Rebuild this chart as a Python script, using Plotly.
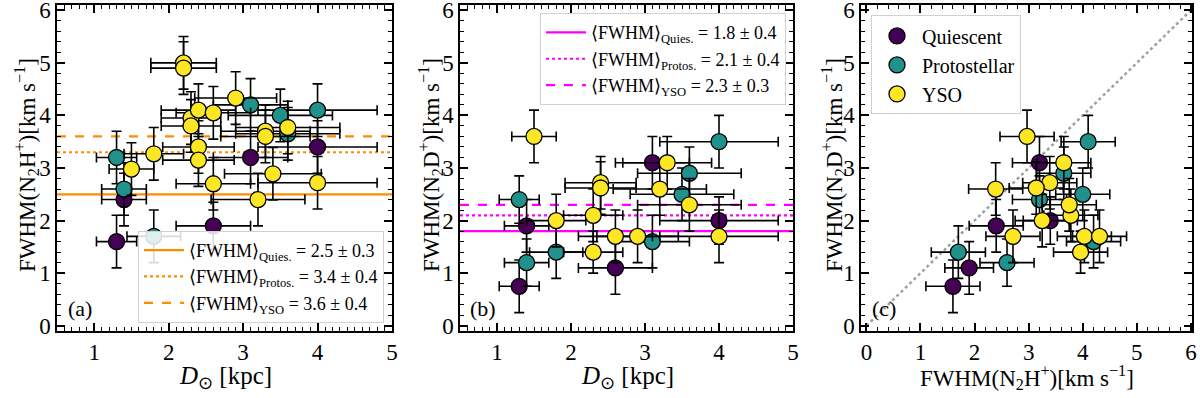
import plotly.graph_objects as go

# quiescent clumps (same sources in all three panels)
q_dist = [1.3, 1.4, 2.6, 3.1, 4.0]
q_dist_err = [0.27, 0.3, 0.5, 0.5, 0.8]
q_n2h = [1.6, 2.4, 1.9, 3.2, 3.4]
q_n2h_err = [0.5, 0.5, 0.45, 0.5, 0.5]
q_n2d = [0.75, 1.9, 1.1, 3.1, 2.0]
q_n2d_err = [0.5, 0.5, 0.5, 0.5, 0.45]

# protostellar clumps
p_dist = [1.3, 1.4, 1.8, 3.1, 3.5, 3.6, 4.0]
p_dist_err = [0.27, 0.3, 0.36, 0.5, 0.7, 0.7, 0.8]
p_n2h = [3.2, 2.6, 1.7, 4.2, 4.0, 3.65, 4.1]
p_n2h_err = [0.5, 0.5, 0.5, 0.5, 0.5, 0.5, 0.5]
p_n2d = [2.4, 1.2, 1.4, 1.6, 2.5, 2.9, 3.5]
p_n2d_err = [0.45, 0.45, 0.5, 0.5, 0.5, 0.5, 0.5]

# YSO clumps (panel a: all sources)
y_dist = [2.2, 2.2, 1.8, 1.5, 2.3, 2.3, 2.4, 2.6, 2.4, 2.4, 2.6, 2.9, 3.3, 3.3, 3.6, 3.4, 3.2, 4.0]
y_dist_err = [0.44, 0.44, 0.4, 0.3, 0.4, 0.4, 0.5, 0.5, 0.48, 0.48, 0.5, 0.55, 0.6, 0.6, 0.7, 0.65, 0.63, 0.8]
y_n2h = [5.0, 4.9, 3.27, 2.98, 3.95, 3.8, 4.1, 4.05, 3.4, 3.15, 2.7, 4.33, 3.7, 3.6, 3.77, 2.89, 2.4, 2.72]
y_n2h_err = [0.5, 0.5, 0.5, 0.5, 0.5, 0.5, 0.5, 0.5, 0.5, 0.5, 0.5, 0.5, 0.5, 0.5, 0.5, 0.5, 0.5, 0.5]
# YSO clumps with N2D+ detections (panels b and c)
yd_dist = [1.8, 1.5, 2.3, 2.3, 2.6, 2.4, 2.4, 2.9, 3.3, 3.6, 3.2, 4.0]
yd_dist_err = [0.4, 0.3, 0.4, 0.4, 0.5, 0.48, 0.48, 0.55, 0.6, 0.7, 0.63, 0.8]
yd_n2h = [3.25, 2.97, 3.96, 3.78, 4.03, 3.39, 3.14, 4.31, 3.65, 3.75, 2.39, 2.71]
yd_n2h_err = [0.5, 0.5, 0.5, 0.5, 0.5, 0.5, 0.5, 0.5, 0.5, 0.5, 0.5, 0.5]
yd_n2d = [2.0, 3.6, 1.4, 2.1, 1.7, 2.72, 2.62, 1.7, 3.1, 2.3, 2.6, 1.7]
yd_n2d_err = [0.5, 0.5, 0.4, 0.5, 0.5, 0.5, 0.5, 0.5, 0.5, 0.5, 0.5, 0.5]

# mean values drawn as horizontal lines
mean_n2h = [2.5, 3.3, 3.6]
mean_n2d = [1.8, 2.1, 2.3]
mean_n2h_labels = ["⟨FWHM⟩<sub>Quies.</sub> = 2.5 ± 0.3",
                   "⟨FWHM⟩<sub>Protos.</sub> = 3.4 ± 0.4",
                   "⟨FWHM⟩<sub>YSO</sub> = 3.6 ± 0.4"]
mean_n2d_labels = ["⟨FWHM⟩<sub>Quies.</sub> = 1.8 ± 0.4",
                   "⟨FWHM⟩<sub>Protos.</sub> = 2.1 ± 0.4",
                   "⟨FWHM⟩<sub>YSO</sub> = 2.3 ± 0.3"]

FONT = "Liberation Serif"
W, H = 1200, 398
T, B = 5, 67
cols = {"Quiescent": "#440154", "Protostellar": "#21918c", "YSO": "#fde725"}
dashes = ["solid", "dot", "dash"]

fig = go.Figure()


def pts(x, xe, y, ye, name, xa, ya, show):
    fig.add_trace(go.Scatter(
        x=x, y=y, mode="markers", name=name, xaxis=xa, yaxis=ya,
        showlegend=show, legend="legend3",
        error_x=dict(type="data", array=xe, color="black", thickness=1.6, width=5),
        error_y=dict(type="data", array=ye, color="black", thickness=1.6, width=5),
        marker=dict(size=16, color=cols[name], line=dict(color="black", width=1.3))))


# panel a
for i in range(3):
    fig.add_trace(go.Scatter(x=[0.5, 5], y=[mean_n2h[i]] * 2, mode="lines", name=mean_n2h_labels[i],
                             line=dict(color="#ff8c00", width=2.2, dash=dashes[i]),
                             xaxis="x", yaxis="y", legend="legend"))
pts(q_dist, q_dist_err, q_n2h, q_n2h_err, "Quiescent", "x", "y", False)
pts(p_dist, p_dist_err, p_n2h, p_n2h_err, "Protostellar", "x", "y", False)
pts(y_dist, y_dist_err, y_n2h, y_n2h_err, "YSO", "x", "y", False)

# panel b
for i in range(3):
    fig.add_trace(go.Scatter(x=[0.5, 5], y=[mean_n2d[i]] * 2, mode="lines", name=mean_n2d_labels[i],
                             line=dict(color="#ff00ff", width=2.2, dash=dashes[i]),
                             xaxis="x2", yaxis="y2", legend="legend2"))
pts(q_dist, q_dist_err, q_n2d, q_n2d_err, "Quiescent", "x2", "y2", False)
pts(p_dist, p_dist_err, p_n2d, p_n2d_err, "Protostellar", "x2", "y2", False)
pts(yd_dist, yd_dist_err, yd_n2d, yd_n2d_err, "YSO", "x2", "y2", False)

# panel c
fig.add_trace(go.Scatter(x=[0, 6], y=[0, 6], mode="lines", showlegend=False,
                         line=dict(color="#a0a0a0", width=2.5, dash="dot"), xaxis="x3", yaxis="y3"))
pts(q_n2h, q_n2h_err, q_n2d, q_n2d_err, "Quiescent", "x3", "y3", True)
pts(p_n2h, p_n2h_err, p_n2d, p_n2d_err, "Protostellar", "x3", "y3", True)
pts(yd_n2h, yd_n2h_err, yd_n2d, yd_n2d_err, "YSO", "x3", "y3", True)


def ax(dom, rng, minor, anchor):
    return dict(domain=dom, range=rng, anchor=anchor, showgrid=False, zeroline=False,
                showline=True, linecolor="black", linewidth=1.5, mirror="allticks",
                ticks="inside", ticklen=8, tickwidth=1.5, tickcolor="black",
                dtick=1, tick0=0, tickfont=dict(family=FONT, size=23, color="black"),
                ticklabeloverflow="allow",
                minor=dict(ticks="inside", ticklen=4, tickwidth=1, tickcolor="black", dtick=minor),
                automargin=False)


fig.update_layout(
    width=W, height=H, margin=dict(l=0, r=0, t=T, b=B),
    plot_bgcolor="white", paper_bgcolor="white",
    font=dict(family=FONT, color="black"),
    xaxis=ax([57 / W, 392 / W], [0.5, 5], 0.1, "y"),
    yaxis=ax([0, 1], [-0.1, 6.1], 0.2, "x"),
    xaxis2=ax([460 / W, 793 / W], [0.5, 5], 0.1, "y2"),
    yaxis2=ax([0, 1], [-0.1, 6.1], 0.2, "x2"),
    xaxis3=ax([861 / W, 1192 / W], [-0.1, 6.02], 0.2, "y3"),
    yaxis3=ax([0, 1], [-0.1, 6.1], 0.2, "x3"),
    legend=dict(x=384 / W, y=0.025, xanchor="right", yanchor="bottom",
                bgcolor="rgba(255,255,255,0.85)", bordercolor="#d0d0d0", borderwidth=1,
                font=dict(family=FONT, size=18), itemwidth=40, tracegroupgap=0),
    legend2=dict(x=786 / W, y=0.975, xanchor="right", yanchor="top",
                 bgcolor="rgba(255,255,255,0.85)", bordercolor="#d0d0d0", borderwidth=1,
                 font=dict(family=FONT, size=18), itemwidth=40),
    legend3=dict(x=871 / W, y=0.968, xanchor="left", yanchor="top",
                 bgcolor="rgba(255,255,255,0.85)", bordercolor="#d0d0d0", borderwidth=1,
                 font=dict(family=FONT, size=20), itemwidth=40),
)

ph = H - T - B


def py(p):
    return (H - B - p) / ph


ann = [
    ("(a)", 80, 308, 0, 22), ("(b)", 483, 308, 0, 22), ("(c)", 884, 308, 0, 22),
    ("<i>D</i><sub>⊙</sub> [kpc]", 225, 377, 0, 25),
    ("<i>D</i><sub>⊙</sub> [kpc]", 627, 377, 0, 25),
    ("FWHM(N<sub>2</sub>H<sup>+</sup>)[km s<sup>−1</sup>]", 1027, 377, 0, 23),
    ("FWHM(N<sub>2</sub>H<sup>+</sup>)[km s<sup>−1</sup>]", 26, 165, -90, 23),
    ("FWHM(N<sub>2</sub>D<sup>+</sup>)[km s<sup>−1</sup>]", 430, 165, -90, 23),
    ("FWHM(N<sub>2</sub>D<sup>+</sup>)[km s<sup>−1</sup>]", 833, 165, -90, 23),
]
for txt, x, y, ang, sz in ann:
    fig.add_annotation(text=txt, x=x / W, y=py(y), xref="paper", yref="paper",
                       showarrow=False, textangle=ang, xanchor="center", yanchor="middle",
                       font=dict(family=FONT, size=sz, color="black"))

# the page body has a default 8px margin; remove it so the figure sits at the corner
fig.write_html("out.html", config={"displayModeBar": False},
               post_script="document.body.style.margin='0';")
